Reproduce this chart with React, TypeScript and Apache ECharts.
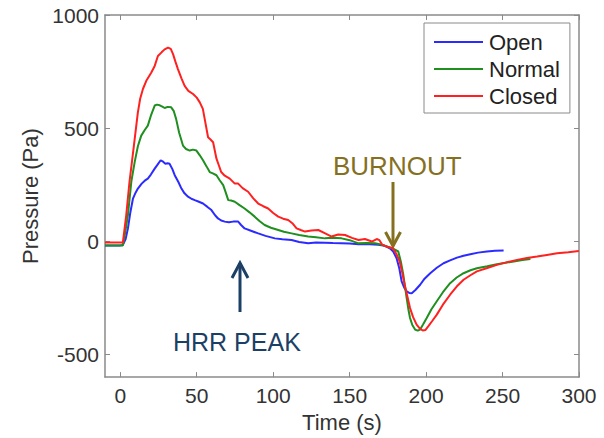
import React, { useEffect, useRef } from "react";
import * as echarts from "echarts";

// ---------- data ----------
const seriesNames = ["Open", "Normal", "Closed"];
const xTicks = [0, 50, 100, 150, 200, 250, 300];
const yTicks = [-500, 0, 500, 1000];

const timeOpen = [-10, 0, 1.7, 3.5, 5, 6.5, 8.3, 10, 11.5, 14, 16, 18, 20, 22.5, 24.5, 26.4, 28, 29.5, 31, 32.2, 34, 35.6, 38, 40, 42, 44.3, 46.5, 48.7, 51, 54.1, 57, 59.6, 62, 63.9, 66, 68.3, 71, 73.8, 77.1, 79, 81.3, 85, 90.2, 95, 101.1, 106, 112, 117, 122.9, 128, 133.8, 139, 144.7, 150, 155.8, 162.8, 168.8, 173, 176.3, 178.5, 180.7, 182.5, 184, 185.7, 187.3, 189, 190.6, 193, 196.1, 199, 202.7, 207, 211.4, 215.7, 220.2, 224.5, 228.9, 234, 239.8, 245, 250.7];
const pressureOpen = [-18, -18, -16, 10, 57, 125, 189, 215, 233, 255, 268, 277, 295, 321, 340, 358, 352, 343, 345, 343, 320, 292, 262, 233, 212, 197, 188, 182, 176, 167, 152, 138, 115, 101, 92, 87, 84, 87, 87, 72, 57, 48, 35, 24, 13, 9, 6, -3, -9, -5, -6, -8, -9, -10, -13, -13, -15, -20, -31, -45, -75, -120, -177, -205, -221, -228, -229, -215, -192, -165, -141, -117, -97, -84, -72, -64, -57, -50, -45, -42, -41];

const timeNormal = [-10, 0, 1.7, 3.3, 5, 7.2, 9.4, 11.5, 13.7, 16, 18, 20, 22.5, 24, 25.8, 27.5, 29, 31, 33.3, 35, 36.5, 38.5, 41, 43, 45.4, 47.5, 49.8, 52, 54.1, 56.5, 58.5, 60.5, 62.9, 65, 67.3, 69, 70.6, 72.5, 74.9, 78, 81.3, 84.5, 87.9, 91, 94.4, 98.5, 103.3, 107, 112, 117, 122.9, 128, 133.8, 139, 144.7, 150, 155.8, 161, 166.6, 171, 176.3, 179, 181.8, 183.5, 185.1, 186.2, 187.3, 188.4, 189.5, 191, 192.8, 194.5, 196.1, 198, 200.4, 203.5, 207, 211, 215.7, 220, 224.5, 229, 233.2, 240, 246.3, 252, 257.3, 263, 268.2];
const pressureNormal = [-18, -18, -18, 42, 116, 263, 350, 420, 467, 492, 511, 555, 600, 604, 601, 595, 589, 594, 592, 575, 541, 480, 423, 408, 401, 405, 401, 380, 358, 330, 306, 300, 292, 270, 248, 215, 182, 180, 175, 160, 145, 128, 109, 90, 72, 60, 50, 42, 35, 28, 21, 18, 13, 16, 13, 5, -9, -8, -9, -15, -27, -35, -45, -90, -148, -200, -251, -300, -339, -370, -390, -395, -390, -368, -339, -300, -265, -225, -185, -160, -141, -128, -119, -110, -101, -95, -89, -83, -78];

const timeClosed = [-10, 0, 1.7, 3.9, 6, 8.9, 11.5, 13, 14.8, 17, 20.3, 22.5, 24.6, 27, 29, 31.2, 33, 34.5, 36, 37.7, 40, 42.1, 44.5, 47.6, 50, 52, 54, 55.2, 57.4, 59, 60.7, 62.9, 64.5, 66, 68.3, 71.6, 74.9, 77.1, 80, 83.6, 87, 90.2, 93.5, 96.7, 100, 103.3, 106.5, 109.8, 112.5, 115.3, 118, 120.8, 125, 129.5, 134, 138.2, 142.5, 147, 151.5, 155.8, 160, 164.5, 167.7, 169.5, 171.4, 175, 178.3, 180.5, 182.7, 184.3, 186, 187.8, 189.5, 191.5, 193.8, 195.8, 197.8, 199.5, 201.5, 204, 207, 211, 215.7, 220, 224.5, 229, 233.2, 240, 246.3, 253, 259.5, 266, 272.6, 279, 285.7, 293, 299.9];
const pressureClosed = [-5, -5, -5, 116, 262, 423, 570, 630, 673, 709, 746, 775, 819, 835, 848, 856, 850, 827, 795, 761, 720, 687, 665, 651, 635, 614, 585, 541, 460, 450, 438, 365, 335, 306, 290, 277, 255, 255, 235, 219, 190, 167, 155, 145, 125, 109, 100, 94, 80, 57, 50, 43, 48, 50, 35, 21, 30, 28, 15, 6, 10, -1, 10, 5, -16, -25, -31, -55, -89, -135, -192, -245, -295, -335, -368, -385, -394, -392, -375, -352, -324, -280, -236, -200, -170, -150, -133, -118, -104, -92, -82, -74, -67, -60, -53, -48, -43];

const seriesColors = ["#2b2bff", "#1f8f1f", "#ff2020"];

const zip = (xs: number[], ys: number[]) => xs.map((x, i) => [x, ys[i]]);

const FONT = "Liberation Sans";
const AXIS_GRAY = "#8a8a8a";
const BURN_COLOR = "#85701f";
const HRR_COLOR = "#1c3f66";

export default function App() {
  const ref = useRef<HTMLDivElement>(null);

  useEffect(() => {
    if (!ref.current) return;
    const chart = echarts.init(ref.current, undefined, { renderer: "svg" });

    const tickCommon = {
      inside: true,
      length: 5,
      lineStyle: { color: AXIS_GRAY, width: 1 },
    };
    const lineCommon = { show: true, onZero: false, lineStyle: { color: AXIS_GRAY, width: 1.5 } };
    const fmt = (v: number) => String(v);

    const option: any = {
      animation: false,
      backgroundColor: "#ffffff",
      grid: { left: 105, right: 25, top: 15, bottom: 59, containLabel: false },
      legend: {
        data: seriesNames.map((n) => ({ name: n, icon: "rect" })),
        orient: "vertical",
        left: 424,
        top: 23,
        padding: [8, 10, 6, 10],
        itemGap: 5,
        itemWidth: 49,
        itemHeight: 2,
        borderColor: "#8a8a8a",
        borderWidth: 1,
        backgroundColor: "#ffffff",
        textStyle: { fontFamily: FONT, fontSize: 22, color: "#222222", padding: [0, 0, 0, 1] },
      },
      xAxis: [
        {
          type: "value",
          min: -10,
          max: 300,
          name: "Time (s)",
          nameLocation: "middle",
          nameGap: 31,
          nameTextStyle: { fontFamily: FONT, fontSize: 22, color: "#333333" },
          axisLine: lineCommon,
          axisTick: { ...tickCommon, customValues: xTicks },
          axisLabel: {
            customValues: xTicks,
            formatter: fmt,
            fontFamily: FONT,
            fontSize: 21,
            color: "#333333",
            margin: 8,
          },
          splitLine: { show: false },
        },
        {
          type: "value",
          position: "top",
          min: -10,
          max: 300,
          axisLine: lineCommon,
          axisTick: { ...tickCommon, customValues: xTicks },
          axisLabel: { show: false },
          splitLine: { show: false },
        },
      ],
      yAxis: [
        {
          type: "value",
          min: -600,
          max: 1000,
          name: "Pressure (Pa)",
          nameLocation: "middle",
          nameGap: 62,
          nameTextStyle: { fontFamily: FONT, fontSize: 22, color: "#333333" },
          axisLine: lineCommon,
          axisTick: { ...tickCommon, customValues: yTicks },
          axisLabel: {
            customValues: yTicks,
            formatter: fmt,
            fontFamily: FONT,
            fontSize: 21,
            color: "#333333",
            margin: 6,
          },
          splitLine: { show: false },
        },
        {
          type: "value",
          position: "right",
          min: -600,
          max: 1000,
          axisLine: lineCommon,
          axisTick: { ...tickCommon, customValues: yTicks },
          axisLabel: { show: false },
          splitLine: { show: false },
        },
      ],
      series: [
        { data: zip(timeOpen, pressureOpen) },
        { data: zip(timeNormal, pressureNormal) },
        { data: zip(timeClosed, pressureClosed) },
      ].map((s, i) => ({
        name: seriesNames[i],
        type: "line",
        xAxisIndex: 0,
        yAxisIndex: 0,
        symbol: "none",
        showSymbol: false,
        smooth: false,
        data: s.data,
        color: seriesColors[i],
        lineStyle: { color: seriesColors[i], width: 2 },
        z: 3 + i,
      })),
      graphic: [
        {
          type: "text",
          left: 333,
          top: 153,
          style: {
            text: "BURNOUT",
            fontFamily: FONT,
            fontSize: 26,
            fill: BURN_COLOR,
          },
        },
        {
          type: "line",
          shape: { x1: 393, y1: 182, x2: 393, y2: 246 },
          style: { stroke: BURN_COLOR, lineWidth: 3 },
        },
        {
          type: "polyline",
          shape: { points: [[385.5, 232], [393, 246], [400.5, 232]] },
          style: { stroke: BURN_COLOR, lineWidth: 3, fill: "none" },
        },
        {
          type: "text",
          left: 173,
          top: 329,
          style: {
            text: "HRR PEAK",
            fontFamily: FONT,
            fontSize: 25,
            fill: HRR_COLOR,
          },
        },
        {
          type: "line",
          shape: { x1: 240, y1: 312, x2: 240, y2: 263 },
          style: { stroke: HRR_COLOR, lineWidth: 3 },
        },
        {
          type: "polyline",
          shape: { points: [[232, 278], [240, 263], [248, 278]] },
          style: { stroke: HRR_COLOR, lineWidth: 3, fill: "none" },
        },
      ],
    };

    chart.setOption(option);
    return () => chart.dispose();
  }, []);

  return (
    <div
      ref={ref}
      style={{ position: "absolute", left: 0, top: 0, width: 604, height: 438, background: "#fff" }}
    />
  );
}
